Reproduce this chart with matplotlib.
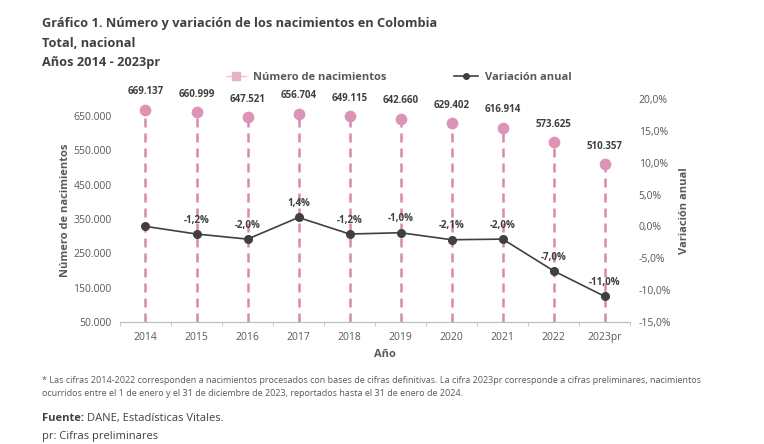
import matplotlib.pyplot as plt
from matplotlib.lines import Line2D
from matplotlib.ticker import FuncFormatter
import numpy as np

plt.rcParams['font.family'] = ['Open Sans', 'DejaVu Sans']

years = ['2014', '2015', '2016', '2017', '2018', '2019', '2020', '2021', '2022', '2023pr']
births = [669137, 660999, 647521, 656704, 649115, 642660, 629402, 616914, 573625, 510357]
variation = [0.0, -1.2, -2.0, 1.4, -1.2, -1.0, -2.1, -2.0, -7.0, -11.0]
var_labels = ['', '-1,2%', '-2,0%', '1,4%', '-1,2%', '-1,0%', '-2,1%', '-2,0%', '-7,0%', '-11,0%']

pink = '#D98AAA'
pink_dot = '#DC93B6'
dark = '#404040'
gray = '#595959'


def miles(v, pos=None):
    return f'{int(v):,}'.replace(',', '.')


def pct(v, pos=None):
    return f'{v:.1f}%'.replace('.', ',')


fig = plt.figure(figsize=(7.64, 4.44), dpi=100)
ax = fig.add_axes([0.157, 0.275, 0.668, 0.502])
ax2 = ax.twinx()

x = np.arange(len(years))
ymin = 50000
ax.vlines(x, ymin, births, colors=pink, linewidth=1.8, linestyles=(0, (3.6, 2.4)))
ax.scatter(x, births, s=55, color=pink_dot, zorder=3)
for xi, b in zip(x, births):
    ax.annotate(miles(b), (xi, b), xytext=(0, 9), textcoords='offset points',
                ha='center', va='bottom', fontsize=7, fontweight='bold', color=dark)

ax.set_ylim(ymin, 700000)
ax.set_yticks(np.arange(50000, 650001, 100000))
ax.yaxis.set_major_formatter(FuncFormatter(miles))
ax.set_xlim(-0.5, len(years) - 0.5)
ax.set_xticks(x)
ax.set_xticklabels(years)
ax.set_xticks(np.arange(-0.5, len(years), 1), minor=True)
ax.tick_params(axis='x', which='major', length=0, pad=7, labelsize=7.5, colors=gray)
ax.tick_params(axis='x', which='minor', length=3, color='#BFBFBF')
ax.tick_params(axis='y', length=0, labelsize=7.5, colors=gray, pad=6)
ax.set_ylabel('Número de nacimientos', fontsize=8, fontweight='bold', color=gray, labelpad=2)
ax.set_xlabel('Año', fontsize=8, fontweight='bold', color=gray)
ax.xaxis.set_label_coords(0.52, -0.12)

ax2.plot(x, variation, color=dark, linewidth=1.2, marker='o', markersize=5.5, zorder=4)
for xi, v, lab in zip(x, variation, var_labels):
    if lab:
        ax2.annotate(lab, (xi, v), xytext=(0, 6), textcoords='offset points',
                     ha='center', va='bottom', fontsize=7, fontweight='bold', color=dark)
ax2.set_ylim(-15, 20)
ax2.set_yticks(np.arange(-15, 21, 5))
ax2.yaxis.set_major_formatter(FuncFormatter(pct))
ax2.tick_params(axis='y', length=0, labelsize=7.5, colors=gray, pad=6)
ax2.set_ylabel('Variación anual', fontsize=8, fontweight='bold', color=gray, labelpad=6)

for a in (ax, ax2):
    for s in ('top', 'left', 'right'):
        a.spines[s].set_visible(False)
    a.spines['bottom'].set_color('#BFBFBF')

h_births = Line2D([0], [0], color='#EBC3D4', linewidth=1, marker='s', markersize=6,
                  markerfacecolor='#E6B0C8', markeredgecolor='#E6B0C8')
h_var = Line2D([0], [0], color=dark, linewidth=1.2, marker='o', markersize=4)
leg_kw = dict(loc='center left', frameon=False, borderaxespad=0, borderpad=0,
              handletextpad=0.6, prop={'size': 8, 'weight': 'bold'}, labelcolor=gray)
fig.legend([h_births], ['Número de nacimientos'], bbox_to_anchor=(226 / 764, 0.826),
           handlelength=1.8, **leg_kw)
fig.legend([h_var], ['Variación anual'], bbox_to_anchor=(454 / 764, 0.826),
           handlelength=2.2, **leg_kw)

title_kw = dict(fontsize=9.2, fontweight='bold', color=dark, va='center')
fig.text(0.055, 0.946, 'Gráfico 1. Número y variación de los nacimientos en Colombia', **title_kw)
fig.text(0.055, 0.903, 'Total, nacional', **title_kw)
fig.text(0.055, 0.860, 'Años 2014 - 2023pr', **title_kw)

fig.text(0.055, 0.143,
         '* Las cifras 2014-2022 corresponden a nacimientos procesados con bases de cifras definitivas. '
         'La cifra 2023pr corresponde a cifras preliminares, nacimientos',
         fontsize=6.5, color=gray, va='center')
fig.text(0.055, 0.113,
         'ocurridos entre el 1 de enero y el 31 de diciembre de 2023, reportados hasta el 31 de enero de 2024.',
         fontsize=6.5, color=gray, va='center')
t = fig.text(0.055, 0.058, 'Fuente:', fontsize=8, fontweight='bold', color=dark, va='center')
fig.canvas.draw()
bb = t.get_window_extent()
fig.text(bb.x1 / fig.bbox.width + 0.004, 0.058, 'DANE, Estadísticas Vitales.',
         fontsize=8, color=dark, va='center')
fig.text(0.055, 0.018, 'pr: Cifras preliminares', fontsize=8, color=dark, va='center')

fig.savefig('out.png', dpi=100)
